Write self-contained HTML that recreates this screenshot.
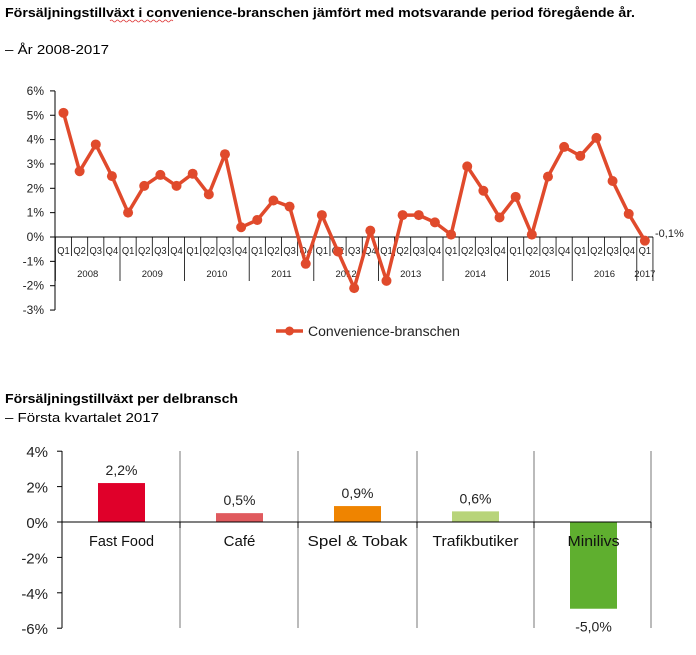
<!DOCTYPE html>
<html><head><meta charset="utf-8"><style>
html,body{margin:0;padding:0;background:#fff;}
svg{display:block;font-family:"Liberation Sans",sans-serif;}
</style></head><body>
<svg id="s" width="696" height="655" xmlns="http://www.w3.org/2000/svg">
<text x="5" y="17" font-size="13" font-weight="bold" textLength="630" lengthAdjust="spacingAndGlyphs">Försäljningstillväxt i convenience-branschen jämfört med motsvarande period föregående år.</text>
<path d="M110 21 q1.5 -2 3 0 t3 0 t3 0 t3 0 t3 0 t3 0 t3 0 t3 0 t3 0 t3 0 t3 0 t3 0 t3 0 t3 0 t3 0 t3 0 t3 0 t3 0 t3 0 t3 0 t3 0" fill="none" stroke="#d33" stroke-width="0.7"/>
<text x="5" y="54" font-size="13" textLength="104" lengthAdjust="spacingAndGlyphs">– År 2008-2017</text>
<text x="5" y="403" font-size="13" font-weight="bold" textLength="233" lengthAdjust="spacingAndGlyphs">Försäljningstillväxt per delbransch</text>
<text x="5" y="422" font-size="13" textLength="154" lengthAdjust="spacingAndGlyphs">– Första kvartalet 2017</text>
<g id="top"></g>
<g id="bot"></g>
</svg>
<script>
var ns="http://www.w3.org/2000/svg";
function el(p,t,a,txt){var e=document.createElementNS(ns,t);for(var k in a)e.setAttribute(k,a[k]);if(txt!=null)e.textContent=txt;p.appendChild(e);return e;}
var g=document.getElementById('top');
var y0=237,py=24.35,x0=55.4,dx=16.15;
function Y(v){return y0-v*py;}
el(g,'line',{x1:55,y1:91,x2:55,y2:310,stroke:'#000','stroke-width':1});
for(var v=-3;v<=6;v++){var y=Y(v);el(g,'line',{x1:50,y1:y,x2:55,y2:y,stroke:'#000'});
 el(g,'text',{x:44,y:y+4,'font-size':12,'text-anchor':'end',fill:'#222'},(v)+'%');}
el(g,'line',{x1:55,y1:y0,x2:x0+37*dx,y2:y0,stroke:'#000'});
for(var i=0;i<=37;i++){var x=x0+i*dx;var yr=(i%4==0)||i==37;
 el(g,'line',{x1:x,y1:y0,x2:x,y2:yr?281:256,stroke:'#000','stroke-width':0.8});
 if(i<37)el(g,'text',{x:x+dx/2,y:254,'font-size':10,'text-anchor':'middle',fill:'#222',textLength:12.5,lengthAdjust:'spacingAndGlyphs'},'Q'+(i%4+1));}
for(var k=0;k<9;k++)el(g,'text',{x:x0+(k*4+2)*dx,y:277,'font-size':9.5,'text-anchor':'middle',fill:'#222'},2008+k);
el(g,'text',{x:x0+36.5*dx,y:277,'font-size':9.5,'text-anchor':'middle',fill:'#222'},'2017');
var d=[5.1,2.7,3.8,2.5,1.0,2.1,2.55,2.1,2.6,1.75,3.4,0.4,0.7,1.5,1.25,-1.1,0.9,-0.6,-2.1,0.26,-1.8,0.9,0.9,0.6,0.1,2.9,1.9,0.8,1.65,0.1,2.48,3.7,3.33,4.07,2.3,0.95,-0.15];
var pts=d.map(function(v,i){return (x0+(i+0.5)*dx).toFixed(1)+','+Y(v).toFixed(1);});
el(g,'polyline',{points:pts.join(' '),fill:'none',stroke:'#e04a2c','stroke-width':3.5,'stroke-linejoin':'round'});
d.forEach(function(v,i){el(g,'circle',{cx:x0+(i+0.5)*dx,cy:Y(v),r:5,fill:'#e04a2c'});});
el(g,'text',{x:655,y:237,'font-size':11,fill:'#222'},'-0,1%');
el(g,'line',{x1:276,y1:331,x2:303,y2:331,stroke:'#e04a2c','stroke-width':3.5});
el(g,'circle',{cx:289.5,cy:331,r:4.5,fill:'#e04a2c'});
el(g,'text',{x:308,y:336,'font-size':13.5,fill:'#222',textLength:152,lengthAdjust:'spacingAndGlyphs'},'Convenience-branschen');
var b=document.getElementById('bot');
var z=522,sc=17.7;function B(v){return z-v*sc;}
el(b,'line',{x1:62,y1:451,x2:62,y2:628,stroke:'#000'});
for(var v=-6;v<=4;v+=2){var y=B(v);el(b,'line',{x1:57,y1:y,x2:62,y2:y,stroke:'#000'});
 el(b,'text',{x:48,y:y+6,'font-size':15,'text-anchor':'end',fill:'#222'},v+'%');}
var seps=[180,298,417,534,651];
seps.forEach(function(x){el(b,'line',{x1:x,y1:451,x2:x,y2:628,stroke:'#777','stroke-width':1});
 el(b,'line',{x1:x,y1:522,x2:x,y2:528,stroke:'#000'});});
var cats=[['Fast Food',2.2,'#e0002a','2,2%',65],['Café',0.5,'#e05a5e','0,5%',0],['Spel & Tobak',0.9,'#ef8400','0,9%',100],['Trafikbutiker',0.6,'#b8d47a','0,6%',86],['Minilivs',-4.9,'#5faf2f','-5,0%',52]];
cats.forEach(function(c,i){var cx=62+118*i+59.5;var v=c[1];var y=B(v);
 el(b,'rect',{x:cx-23.5,y:Math.min(y,z),width:47,height:Math.abs(y-z),fill:c[2]});
 el(b,'text',{x:cx,y:v>0?y-8:y+23,'font-size':14,'text-anchor':'middle',fill:'#222'},c[3]);
 var a={x:cx,y:546,'font-size':15,'text-anchor':'middle',fill:'#111'};
 if(c[4]){a.textLength=c[4];a.lengthAdjust='spacingAndGlyphs';}
 el(b,'text',a,c[0]);});
el(b,'line',{x1:62,y1:522,x2:651,y2:522,stroke:'#000'});
</script>
</body></html>
